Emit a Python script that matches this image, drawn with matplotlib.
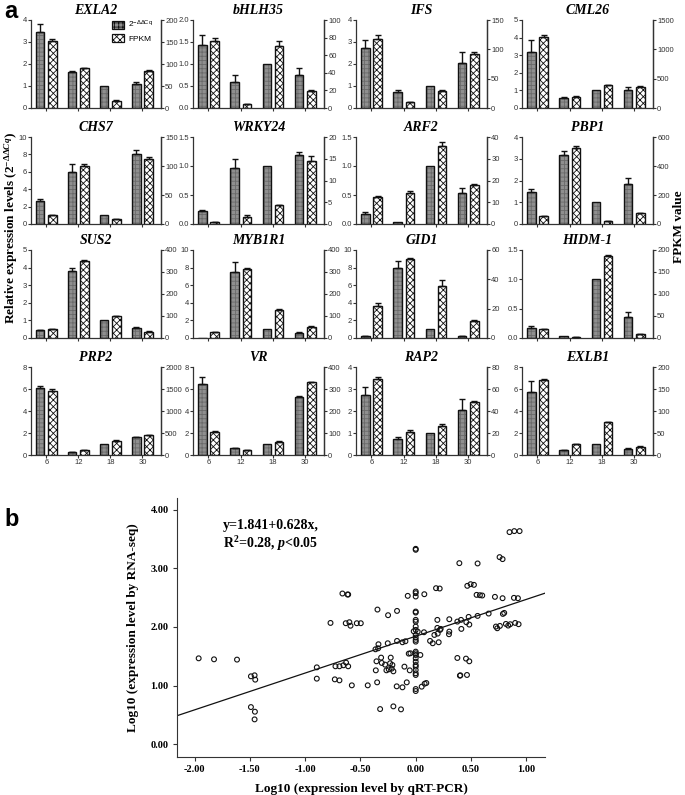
import numpy as np
import matplotlib
matplotlib.use("Agg")
import matplotlib.pyplot as plt
from matplotlib.ticker import FixedLocator, FormatStrFormatter
from matplotlib.patches import Patch

plt.rcParams['mathtext.fontset'] = 'custom'
plt.rcParams['mathtext.rm'] = 'Liberation Serif:bold'
plt.rcParams['mathtext.it'] = 'Liberation Serif:italic:bold'
plt.rcParams['mathtext.bf'] = 'Liberation Serif:bold'
plt.rcParams['mathtext.sf'] = 'Liberation Sans'
plt.rcParams['hatch.linewidth'] = 0.6

# ---------------- data: panel a ----------------
genes = ['EXLA2', 'bHLH35', 'IFS', 'CML26', 'CHS7', 'WRKY24', 'ARF2', 'PBP1',
         'SUS2', 'MYB1R1', 'GID1', 'HIDM-1', 'PRP2', 'VR', 'RAP2', 'EXLB1']
timepoints = ['6', '12', '18', '30']

qpcr_mean = [
    [3.45, 1.65, 1.0, 1.07], [1.43, 0.60, 1.0, 0.74], [2.75, 0.75, 1.0, 2.05], [3.20, 0.55, 1.0, 1.00],
    [2.60, 6.00, 1.0, 8.10], [0.23, 0.97, 1.0, 1.19], [0.17, 0.03, 1.0, 0.53], [1.47, 3.15, 1.0, 1.85],
    [0.43, 3.80, 1.0, 0.55], [0.02, 7.50, 1.0, 0.60], [0.22, 7.90, 1.0, 0.25], [0.17, 0.03, 1.0, 0.35],
    [6.05, 0.28, 1.0, 1.62], [6.50, 0.60, 1.0, 5.30], [2.75, 0.75, 1.0, 2.05], [5.70, 0.45, 1.0, 0.55]]
qpcr_err = [
    [0.35, 0.03, 0, 0.10], [0.22, 0.14, 0, 0.18], [0.35, 0.07, 0, 0.50], [0.65, 0.10, 0, 0.20],
    [0.25, 0.90, 0, 0.40], [0.01, 0.15, 0, 0.06], [0.04, 0.00, 0, 0.09], [0.13, 0.22, 0, 0.25],
    [0.02, 0.17, 0, 0.07], [0.00, 1.10, 0, 0.10], [0.03, 0.80, 0, 0.03], [0.04, 0.00, 0, 0.09],
    [0.20, 0.02, 0, 0.05], [0.60, 0.05, 0, 0.03], [0.35, 0.07, 0, 0.50], [1.05, 0.05, 0, 0.05]]
fpkm_mean = [
    [153, 90, 17, 84], [76, 4, 71, 19], [118, 9.4, 29, 92], [1215, 180, 390, 354],
    [15, 100, 8, 112], [0.4, 1.6, 4.3, 14.4], [12.5, 14.1, 36, 17.9], [55, 525, 20, 75],
    [40, 348, 98, 28], [26, 312, 128, 52], [21.6, 53.7, 35.4, 11.7], [20, 2.7, 187, 9],
    [1450, 105, 325, 455], [106, 22, 61, 330], [69, 21, 26.4, 48], [171, 24, 74, 19]]
fpkm_err = [
    [3, 2, 1, 2], [3, 0.5, 5, 2], [6, 0.5, 1, 3], [30, 20, 10, 15],
    [1, 3, 0.5, 4], [0.1, 0.4, 0.1, 1.2], [0.3, 1.0, 1.5, 0.3], [3, 15, 2, 3],
    [1, 6, 2, 2], [1, 5, 3, 1], [2, 0.8, 4, 0.4], [1, 0.5, 2, 1],
    [50, 10, 20, 10], [3, 1, 3, 3], [2, 1.5, 1.5, 1], [2, 1, 2, 1]]
left_max = [4, 2, 4, 5, 10, 1.5, 1.5, 4, 5, 10, 10, 1.5, 8, 8, 4, 8]
left_step = [1, 0.5, 1, 1, 2, 0.5, 0.5, 1, 1, 2, 2, 0.5, 2, 2, 1, 2]
right_max = [200, 100, 150, 1500, 150, 20, 40, 600, 400, 400, 60, 200, 2000, 400, 80, 200]
right_step = [50, 20, 50, 500, 50, 5, 10, 200, 100, 100, 20, 50, 500, 100, 20, 50]

# ---------------- data: panel b ----------------
x_qpcr = [-1.964, -1.825, -1.617, -1.491, -1.458, -1.452, -1.491, -1.455, -1.458,
          -0.895, -0.895, -0.771, -0.726, -0.69, -0.654, -0.732, -0.69, -0.663, -0.63, -0.611,
          -0.633, -0.60, -0.59, -0.578, -0.533, -0.497, -0.617, -0.611, -0.434, -0.349, -0.346,
          -0.361, -0.355, -0.34, -0.337, -0.364, -0.322, -0.313, -0.307, -0.277, -0.265, -0.253,
          -0.25, -0.244, -0.232, -0.226, -0.217, -0.211, -0.202, -0.169, -0.169, -0.172, -0.133,
          -0.12, -0.12, -0.102, -0.093, -0.081, -0.072, -0.063, -0.048, -0.054, -0.018, -0.202,
          0, 0, 0, 0, 0, 0, 0, 0, 0, 0, 0, 0, 0, 0, 0, 0, 0, 0, 0, 0, 0, 0, 0, 0, 0, 0, 0,
          0.018, 0.042, 0.054, 0.078, 0.075, 0.081, 0.096, 0.13, 0.154, 0.169, 0.184, 0.196,
          0.196, 0.199, 0.208, 0.217, 0.22, 0.226, 0.301, 0.304, 0.304, 0.377, 0.377, 0.395,
          0.40, 0.404, 0.41, 0.413, 0.458, 0.455, 0.467, 0.464, 0.479, 0.485, 0.485, 0.497,
          0.527, 0.551, 0.56, 0.56, 0.581, 0.602, 0.66, 0.717, 0.726, 0.738, 0.762, 0.759,
          0.786, 0.786, 0.789, 0.801, 0.816, 0.837, 0.849, 0.892, 0.889, 0.90, 0.925, 0.94,
          0.931, 0.855]
y_rnaseq = [1.464, 1.447, 1.442, 1.157, 1.174, 1.10, 0.632, 0.553, 0.422,
            1.31, 1.117, 2.068, 1.328, 1.328, 1.345, 1.105, 1.088, 2.57, 1.39, 1.328,
            2.063, 2.08, 2.02, 1.003, 2.063, 2.063, 2.553, 2.553, 1.003, 1.054, 2.296,
            1.259, 1.413, 1.635, 1.704, 1.618, 0.598, 1.476, 1.385, 1.356, 1.259, 1.721,
            2.20, 1.276, 1.379, 1.476, 1.288, 1.35, 0.644, 2.273, 1.761, 0.986, 0.593,
            0.969, 1.738, 1.322, 1.755, 1.054, 2.53, 1.544, 1.55, 1.259, 1.926, 1.242,
            3.333, 3.316, 2.604, 2.576, 2.519, 2.262, 2.245, 2.12, 2.09, 2.006, 1.949, 1.863,
            1.818, 1.778, 1.749, 1.578, 1.55, 1.521, 1.464, 1.407, 1.35, 1.322, 1.265, 1.208,
            1.18, 0.94, 0.906,
            1.92, 1.521, 0.98, 2.558, 1.909, 1.031, 1.043, 1.761, 1.721, 1.863, 2.661, 2.12,
            1.983, 1.886, 1.738, 2.655, 1.949, 1.966, 1.875, 2.131, 1.92, 1.47, 2.091, 3.088,
            1.168, 1.174, 2.12, 1.966, 2.08, 1.459, 2.701, 1.18, 2.171, 1.413, 2.04, 2.729,
            2.718, 2.547, 3.083, 2.188, 2.541, 2.536, 2.228, 2.513, 2.006, 1.977, 2.017, 3.191,
            3.157, 2.49, 2.222, 2.239, 2.051, 2.023, 3.618, 3.635, 2.496, 2.068, 2.49, 3.635,
            2.046, 2.046]
fit_intercept = 1.841
fit_slope = 0.628

# ---------------- figure ----------------
W, H = 685, 795
fig = plt.figure(figsize=(W / 100, H / 100), dpi=100)


def px_axes(x0, y0, x1, y1):
    return fig.add_axes([x0 / W, 1 - y1 / H, (x1 - x0) / W, (y1 - y0) / H])


col_l = [31, 193, 356, 522]
col_r = [161, 324, 487, 653]
row_t = [20, 137, 250, 367]
row_b = [108, 224, 338, 455]

SPC = '#333333'
qcol_face = '#8f8f8f'
qcol_hatch = '#6a6a6a'
xg = np.arange(len(timepoints))
bw = 0.26
off = 0.19

for i, g in enumerate(genes):
    r, c = divmod(i, 4)
    ax = px_axes(col_l[c], row_t[r], col_r[c], row_b[r])
    ax2 = ax.twinx()
    qm = np.array(qpcr_mean[i]); qe = np.array(qpcr_err[i])
    fm = np.array(fpkm_mean[i]); fe = np.array(fpkm_err[i])
    # qPCR bars (left axis)
    ax.bar(xg - off, qm, bw, color=qcol_face, edgecolor=qcol_hatch, hatch='++++', linewidth=0, zorder=2)
    ax.bar(xg - off, qm, bw, facecolor='none', edgecolor='#111111', linewidth=1.0, zorder=3)
    mask = qe > 0
    ax.errorbar((xg - off)[mask], qm[mask], yerr=[np.zeros(mask.sum()), qe[mask]], fmt='none',
                ecolor='#111111', elinewidth=1.0, capsize=2.3, capthick=1.0, zorder=4)
    # FPKM bars (right axis)
    ax2.bar(xg + off, fm, bw, color='white', edgecolor='#111111', hatch='xxxxx', linewidth=1.0, zorder=2)
    ax2.errorbar(xg + off, fm, yerr=[np.zeros(len(fe)), fe], fmt='none',
                 ecolor='#111111', elinewidth=1.0, capsize=2.3, capthick=1.0, zorder=4)

    ax.set_xlim(-0.48, 3.58)
    ax.set_ylim(0, left_max[i])
    ax2.set_ylim(0, right_max[i])
    ax.yaxis.set_major_locator(FixedLocator(np.arange(0, left_max[i] + 1e-9, left_step[i])))
    ax2.yaxis.set_major_locator(FixedLocator(np.arange(0, right_max[i] + 1e-9, right_step[i])))
    ax.yaxis.set_major_formatter(FormatStrFormatter('%.1f' if left_step[i] < 1 else '%d'))
    ax2.yaxis.set_major_formatter(FormatStrFormatter('%d'))
    ax.set_xticks(xg)
    if r == 3:
        ax.set_xticklabels(timepoints, fontdict=dict(family='Liberation Sans', size=6), color=SPC)
    else:
        ax.set_xticklabels([])
    for a in (ax, ax2):
        a.spines['top'].set_visible(False)
        for s in a.spines.values():
            s.set_color(SPC)
            s.set_linewidth(0.9)
        a.tick_params(direction='out', length=2.2, width=0.8, color=SPC, labelcolor=SPC,
                      labelsize=5.5, pad=0.8)
    ax2.spines['left'].set_visible(False)
    ax2.spines['bottom'].set_visible(False)
    for lab in ax.get_yticklabels() + ax2.get_yticklabels():
        lab.set_family('Liberation Sans')
    ax.set_title(g, fontdict=dict(family='Liberation Serif', size=10, weight='bold', style='italic'),
                 pad=4)
    if i == 0:
        h1 = Patch(facecolor=qcol_face, edgecolor='#111111', hatch='++++', linewidth=0.9)
        h2 = Patch(facecolor='white', edgecolor='#111111', hatch='xxxxx', linewidth=0.9)
        ax2.legend([h1, h2], [r'2$^{\mathsf{-\Delta\Delta Cq}}$', 'FPKM'], loc='upper right',
                   bbox_to_anchor=(1.0, 1.10), frameon=False, prop=dict(family='Liberation Sans', size=6),
                   handlelength=1.5, handleheight=1.1, handletextpad=0.5, labelspacing=0.5)

fig.text(11 / W, 1 - 228 / H, r'Relative expression levels (2$^{-\Delta\Delta Cq}$)', rotation=90,
         ha='center', va='center', family='Liberation Serif', weight='bold', size=9.5)
fig.text(679 / W, 1 - 227 / H, 'FPKM value', rotation=90, ha='center', va='center',
         family='Liberation Serif', weight='bold', size=9.5)
fig.text(4 / W, 1 - 12 / H, 'a', ha='left', va='center', family='Liberation Sans', weight='bold', size=17)

# ---------------- panel b ----------------
axb = px_axes(177, 498, 545, 757)
axb.scatter(x_qpcr, y_rnaseq, s=12, facecolors='none', edgecolors='#111111', linewidths=0.8, zorder=3)
xl = (-2.16, 1.17)
axb.set_xlim(*xl)
axb.set_ylim(-0.22, 4.2)
xx = np.array(xl)
axb.plot(xx, fit_intercept + fit_slope * xx, color='#111111', linewidth=0.9, zorder=2)
axb.set_xticks(np.arange(-2.0, 1.01, 0.5))
axb.set_yticks(np.arange(0, 4.01, 1.0))
axb.xaxis.set_major_formatter(FormatStrFormatter('%.2f'))
axb.yaxis.set_major_formatter(FormatStrFormatter('%.2f'))
for s in ('top', 'right'):
    axb.spines[s].set_visible(False)
for s in ('left', 'bottom'):
    axb.spines[s].set_color(SPC)
    axb.spines[s].set_linewidth(0.8)
axb.tick_params(direction='out', length=3, width=0.8, color=SPC, labelsize=7.5, pad=3)
for lab in axb.get_xticklabels() + axb.get_yticklabels():
    lab.set_family('Liberation Serif')
    lab.set_weight('bold')
axb.set_xlabel('Log10 (expression level by qRT-PCR)', family='Liberation Serif', weight='bold',
               size=9.5, labelpad=6)
axb.set_ylabel('Log10 (expression level by RNA-seq)', family='Liberation Serif', weight='bold',
               size=9.5, labelpad=8)
axb.text(0.125, 0.895, 'y=1.841+0.628x,', transform=axb.transAxes, ha='left', va='center',
         family='Liberation Serif', weight='bold', size=10)
axb.text(0.125, 0.825, r'R$^2$=0.28, $p$<0.05', transform=axb.transAxes, ha='left', va='center',
         family='Liberation Serif', weight='bold', size=10)
fig.text(4 / W, 1 - 520 / H, 'b', ha='left', va='center', family='Liberation Sans', weight='bold', size=17)

fig.savefig('out.png', dpi=100)
